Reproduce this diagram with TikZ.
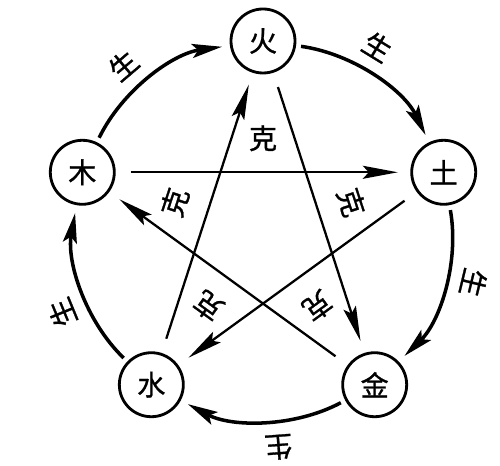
\documentclass[tikz,border=0pt]{standalone}
\usepackage{fontspec}
\newfontfamily\cjk[FakeBold=1]{Noto Sans CJK SC}
\usetikzlibrary{arrows.meta}

\begin{document}
\begin{tikzpicture}[
    elem/.style={circle, draw=black, line width=1.6pt, minimum size=1.28cm, inner sep=0pt, font=\cjk\fontsize{16}{16}\selectfont},
    sheng/.style={line width=2pt, -{Stealth[length=6mm, width=2.8mm, inset=1.2mm]}, shorten <=0.1cm, shorten >=0.16cm, bend left=28, looseness=0.9},
    ke/.style={line width=1.3pt, -{Stealth[length=7mm, width=2.6mm, inset=1.2mm]}, shorten <=0.3cm, shorten >=0.25cm},
    lab/.style={font=\cjk\fontsize{16}{16}\selectfont, sloped, allow upside down}
]
\useasboundingbox (-5.26,-4.68) rectangle (4.74,4.62);

\node[elem] (huo) at (90:3.8) {火};
\node[elem] (tu) at (18:3.8) {土};
\node[elem] (jin) at (-54:3.8) {金};
\node[elem] (shui) at (-126:3.8) {水};
\node[elem] (mu) at (162:3.8) {木};

\draw[sheng] (mu) to node[lab, pos=0.42, above=4pt] {生} (huo);
\draw[sheng] (huo) to node[lab, pos=0.42, above=4pt] {生} (tu);
\draw[sheng] (tu) to node[lab, pos=0.42, above=4pt] {生} (jin);
\draw[sheng] (jin) to node[lab, pos=0.42, above=4pt] {生} (shui);
\draw[sheng] (shui) to node[lab, pos=0.42, above=4pt] {生} (mu);

\draw[ke] (mu) -- node[lab, midway, above=8pt] {克} (tu);
\draw[ke] (tu) -- node[lab, midway, above=8pt] {克} (shui);
\draw[ke] (shui) -- node[lab, midway, above=8pt] {克} (huo);
\draw[ke] (huo) -- node[lab, midway, above=8pt] {克} (jin);
\draw[ke] (jin) -- node[lab, midway, above=8pt] {克} (mu);
\end{tikzpicture}
\end{document}
